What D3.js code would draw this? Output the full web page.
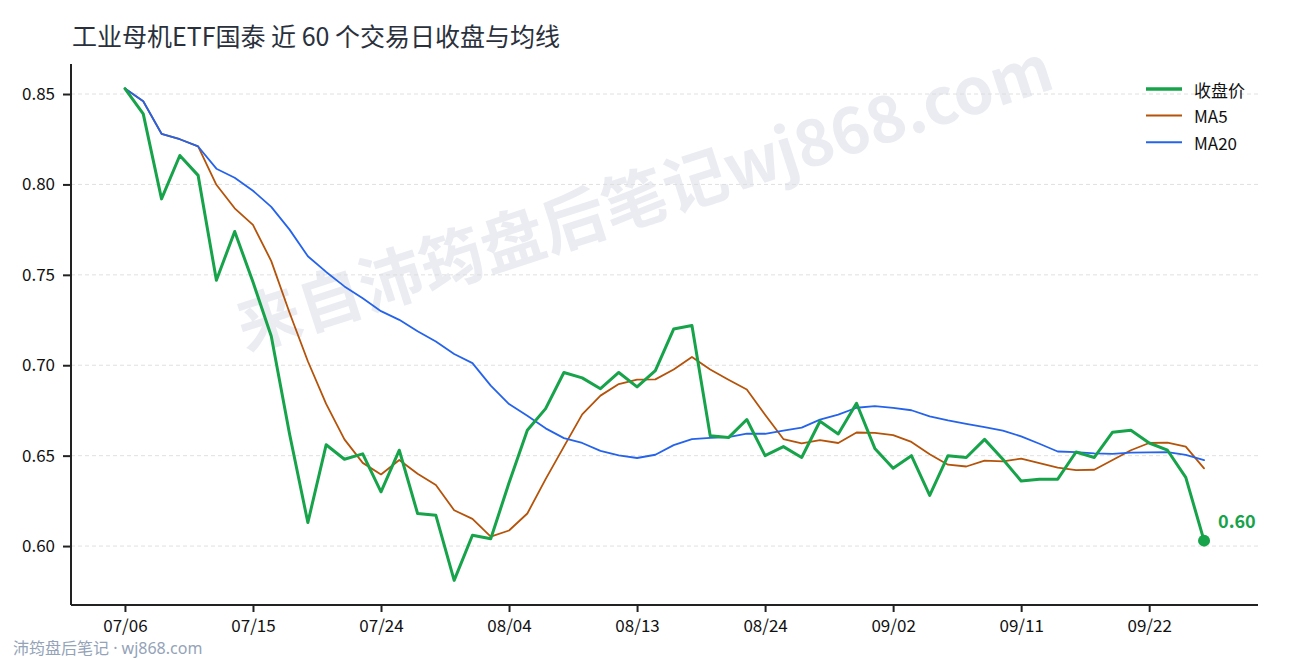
<!DOCTYPE html>
<html>
<head>
<meta charset="utf-8">
<script src="https://cdn.jsdelivr.net/npm/d3@7"></script>
<style>
  body { margin: 0; background: #fff; }
  svg { display: block; font-family: "Noto Sans CJK SC", "Noto Sans", sans-serif; }
</style>
</head>
<body>
<div class="chart"></div>
<script>
// trading days, 07/06 - 09/25
const dates = [
  "07/06","07/07","07/08","07/09","07/10","07/13","07/14","07/15","07/16","07/17",
  "07/20","07/21","07/22","07/23","07/24","07/27","07/28","07/29","07/30","07/31",
  "08/03","08/04","08/05","08/06","08/07","08/10","08/11","08/12","08/13","08/14",
  "08/17","08/18","08/19","08/20","08/21","08/24","08/25","08/26","08/27","08/28",
  "08/31","09/01","09/02","09/03","09/04","09/07","09/08","09/09","09/10","09/11",
  "09/14","09/15","09/16","09/17","09/18","09/21","09/22","09/23","09/24","09/25"
];

const close = [
  0.853, 0.839, 0.792, 0.816, 0.805, 0.747, 0.774, 0.746, 0.716, 0.662,
  0.613, 0.656, 0.648, 0.651, 0.630, 0.653, 0.618, 0.617, 0.581, 0.606,
  0.604, 0.635, 0.664, 0.676, 0.696, 0.693, 0.687, 0.696, 0.688, 0.697,
  0.720, 0.722, 0.661, 0.660, 0.670, 0.650, 0.655, 0.649, 0.669, 0.662,
  0.679, 0.654, 0.643, 0.650, 0.628, 0.650, 0.649, 0.659, 0.648, 0.636,
  0.637, 0.637, 0.652, 0.649, 0.663, 0.664, 0.657, 0.653, 0.638, 0.603
];

const ma5 = [
  0.853, 0.846, 0.828, 0.825, 0.821, 0.7998, 0.7868, 0.7776, 0.7576, 0.729,
  0.7022, 0.6786, 0.659, 0.646, 0.6396, 0.6476, 0.640, 0.6338, 0.6198, 0.615,
  0.6052, 0.6086, 0.618, 0.637, 0.655, 0.6728, 0.6832, 0.6896, 0.692, 0.6922,
  0.6976, 0.7046, 0.6976, 0.692, 0.6866, 0.6726, 0.6592, 0.6568, 0.6586, 0.657,
  0.6628, 0.6626, 0.6614, 0.6576, 0.6508, 0.645, 0.644, 0.6472, 0.6468, 0.6484,
  0.6458, 0.6434, 0.642, 0.6422, 0.6476, 0.653, 0.657, 0.6572, 0.655, 0.643
];

const ma20 = [
  0.853, 0.846, 0.828, 0.825, 0.821, 0.8087, 0.8037, 0.7965, 0.7876, 0.775,
  0.7603, 0.7516, 0.7436, 0.737, 0.7299, 0.7251, 0.7188, 0.7131, 0.7062, 0.7012,
  0.6887, 0.6785, 0.6721, 0.6651, 0.6597, 0.657, 0.6526, 0.6501, 0.6487, 0.6505,
  0.6558, 0.6591, 0.6598, 0.6602, 0.6622, 0.6621, 0.6639, 0.6655, 0.6699, 0.6727,
  0.6765, 0.6774, 0.6764, 0.6751, 0.6717, 0.6695, 0.6676, 0.6658, 0.6638, 0.6607,
  0.6566, 0.6523, 0.6519, 0.6513, 0.651, 0.6517, 0.6518, 0.652, 0.6504, 0.6475
];

const yTicks = [0.60, 0.65, 0.70, 0.75, 0.80, 0.85];
const xTickIdx = [0, 7, 14, 21, 28, 35, 42, 49, 56];

const seriesInfo = [
  { name: "收盘价", values: close, color: "#16a34a", width: 3 },
  { name: "MA5", values: ma5, color: "#b45309", width: 1.8 },
  { name: "MA20", values: ma20, color: "#2563eb", width: 1.8 }
];

const W = 1290, H = 660;
const plotL = 71, plotR = 1258, plotT = 64, plotB = 605;

const svg = d3.select(".chart").append("svg")
  .attr("width", W)
  .attr("height", H);

// 5% padding like the source plot
const n = close.length;
const padX = (n - 1) * 0.05;
const x = d3.scaleLinear().domain([-padX, n - 1 + padX]).range([plotL, plotR]);
const yMin = d3.min(close), yMax = d3.max(close);
const padY = (yMax - yMin) * 0.05;
const y = d3.scaleLinear().domain([yMin - padY, yMax + padY]).range([plotB, plotT]);

// watermark
svg.append("text")
  .attr("transform", "translate(646,203) rotate(-18)")
  .attr("text-anchor", "middle")
  .attr("dominant-baseline", "middle")
  .attr("font-size", 64)
  .attr("font-weight", "bold")
  .attr("fill", "#eaecf2")
  .text("来自沛筠盘后笔记wj868.com");

// grid
svg.append("g")
  .selectAll("line")
  .data(yTicks)
  .enter().append("line")
  .attr("x1", plotL).attr("x2", plotR)
  .attr("y1", d => y(d)).attr("y2", d => y(d))
  .attr("stroke", "#dcdcdc")
  .attr("stroke-width", 0.9)
  .attr("stroke-dasharray", "4,3");

// lines, close on top
const line = vals => d3.line()
  .x((d, i) => x(i))
  .y(d => y(d))(vals);

const drawOrder = [seriesInfo[1], seriesInfo[2], seriesInfo[0]];
svg.append("g")
  .selectAll("path")
  .data(drawOrder)
  .enter().append("path")
  .attr("d", d => line(d.values))
  .attr("fill", "none")
  .attr("stroke", d => d.color)
  .attr("stroke-width", d => d.width)
  .attr("stroke-linejoin", "round")
  .attr("stroke-linecap", "round");

// last close marker
const last = n - 1;
svg.append("circle")
  .attr("cx", x(last))
  .attr("cy", y(close[last]))
  .attr("r", 6)
  .attr("fill", "#16a34a");
svg.append("text")
  .attr("x", x(last) + 14)
  .attr("y", y(close[last]) - 13)
  .attr("font-size", 18)
  .attr("font-weight", "bold")
  .attr("fill", "#16a34a")
  .text(close[last].toFixed(2));

// axes
const yAxis = svg.append("g")
  .attr("transform", `translate(${plotL},0)`)
  .call(d3.axisLeft(y).tickValues(yTicks).tickFormat(d3.format(".2f")).tickSize(8).tickPadding(8));
const xAxis = svg.append("g")
  .attr("transform", `translate(0,${plotB})`)
  .call(d3.axisBottom(x).tickValues(xTickIdx).tickFormat(i => dates[i]).tickSize(7).tickPadding(8));

[yAxis, xAxis].forEach(g => {
  g.select(".domain").attr("stroke", "#222").attr("stroke-width", 2);
  g.selectAll(".tick line").attr("stroke", "#222").attr("stroke-width", 2);
  g.selectAll(".tick text")
    .attr("fill", "#111")
    .attr("font-size", 17)
    .attr("font-family", "'Noto Sans CJK SC', 'Noto Sans', sans-serif");
});
// spines only, no outer ticks
yAxis.select(".domain").attr("d", `M0,${plotT}V${plotB}`);
xAxis.select(".domain").attr("d", `M${plotL},0H${plotR}`);

// title
svg.append("text")
  .attr("x", 72)
  .attr("y", 46)
  .attr("font-size", 25)
  .attr("fill", "#2a313c")
  .text("工业母机ETF国泰 近 60 个交易日收盘与均线");

// legend
const legend = svg.append("g");
seriesInfo.forEach((s, i) => {
  const ly = 89 + i * 26.6;
  legend.append("line")
    .attr("x1", 1146).attr("x2", 1182)
    .attr("y1", ly).attr("y2", ly)
    .attr("stroke", s.color)
    .attr("stroke-width", i == 0 ? 3.5 : 2);
  legend.append("text")
    .attr("x", 1194)
    .attr("y", ly)
    .attr("dominant-baseline", "central")
    .attr("font-size", 17)
    .attr("fill", "#111")
    .text(s.name);
});

// footer
svg.append("text")
  .attr("x", 13)
  .attr("y", 654)
  .attr("font-size", 16)
  .attr("font-family", "'Noto Sans', 'Noto Sans CJK SC', sans-serif")
  .attr("fill", "#94a3b8")
  .text("沛筠盘后笔记 · wj868.com");
</script>
</body>
</html>
